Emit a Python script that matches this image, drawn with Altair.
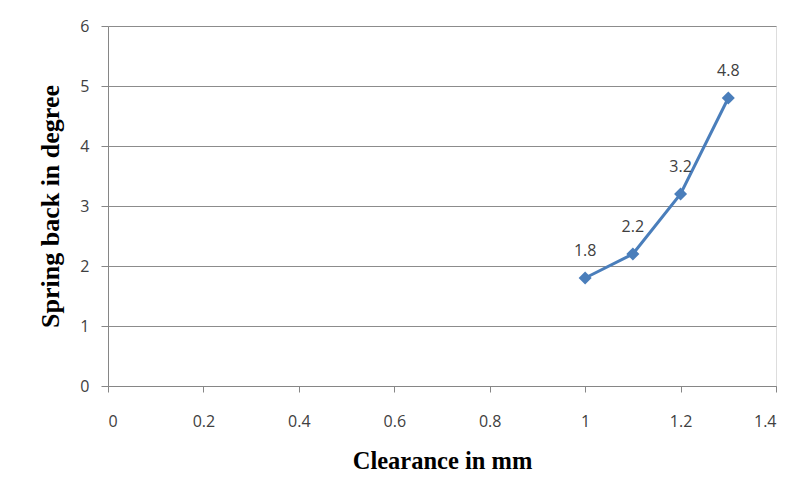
import altair as alt
import pandas as pd

clearance = [1.0, 1.1, 1.2, 1.3]
spring_back = [1.8, 2.2, 3.2, 4.8]
labels = ["1.8", "2.2", "3.2", "4.8"]
x_ticks = [0, 0.2, 0.4, 0.6, 0.8, 1, 1.2, 1.4]
y_ticks = [0, 1, 2, 3, 4, 5, 6]

df = pd.DataFrame({"x": clearance, "y": spring_back, "label": labels})

blue = "#4A7EBB"
tick_font = "Open Sans"

xenc = alt.X("x:Q", scale=alt.Scale(domain=[0, 1.4], nice=False, zero=False),
             axis=alt.Axis(values=x_ticks, title="Clearance in mm",
                           grid=False, tickSize=6, tickColor="#868686", domainColor="#868686",
                           labelFont=tick_font, labelFontSize=16, labelColor="#404040",
                           labelPadding=21, titleFont="Liberation Serif", titleFontSize=24.5,
                           titleFontWeight="bold", titleColor="#000000", titlePadding=20,
                           labelExpr="datum.value == 0 ? '0' : format(datum.value, '.1~f')"))
yenc = alt.Y("y:Q", scale=alt.Scale(domain=[0, 6], nice=False),
             axis=alt.Axis(values=y_ticks, title="Spring back in degree", format="d",
                           grid=True, gridColor="#8c8c8c", gridWidth=1,
                           tickSize=7, tickColor="#868686", domainColor="#868686",
                           labelFont=tick_font, labelFontSize=16, labelColor="#404040",
                           labelPadding=12, titleFont="Liberation Serif", titleFontSize=26,
                           titleFontWeight="bold", titleColor="#000000", titlePadding=16))

line = alt.Chart(df).mark_line(color=blue, strokeWidth=3).encode(x=xenc, y=yenc)
pts = alt.Chart(df).mark_point(shape="diamond", filled=True, color=blue, size=170, opacity=1).encode(x="x:Q", y="y:Q")
txt = alt.Chart(df).mark_text(dy=-27, font=tick_font, fontSize=16, color="#404040").encode(
    x="x:Q", y="y:Q", text="label:N")

chart = alt.layer(line, pts, txt).properties(
    width=668, height=360,
    autosize=alt.AutoSizeParams(type="none"),
    padding={"left": 100, "top": 18, "right": 15, "bottom": 110},
).configure_view(stroke=None).configure(background="white")

chart.save("out.html", embed_options={"renderer": "svg", "actions": False})
